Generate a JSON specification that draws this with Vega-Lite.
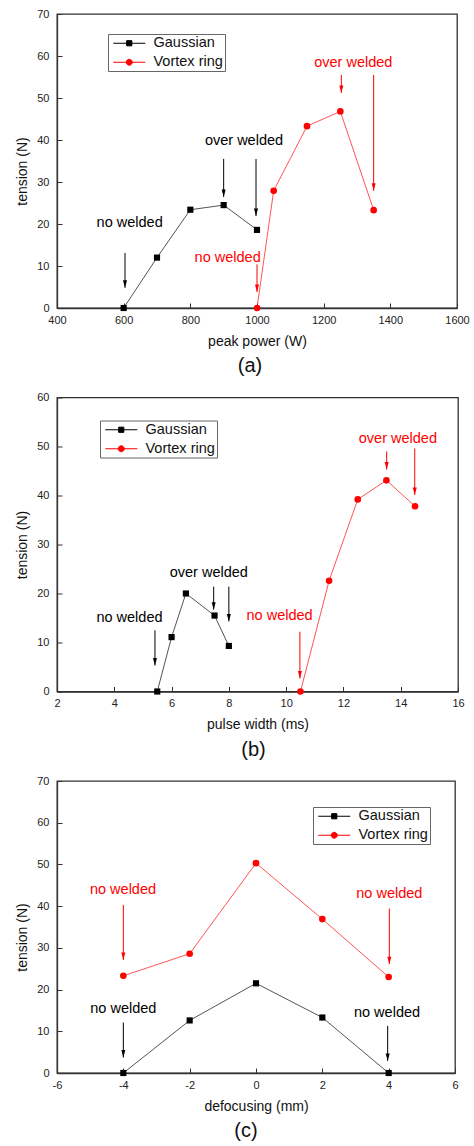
{
  "$schema": "https://vega.github.io/schema/vega-lite/v6.json",
  "background": "white",
  "padding": {"left": 15, "top": 7, "right": 5, "bottom": 0},
  "spacing": 13.5,
  "resolve": {"scale": {"color": "independent", "fill": "independent", "stroke": "independent", "shape": "independent"},
              "legend": {"color": "independent", "fill": "independent", "stroke": "independent", "shape": "independent"}},
  "datasets": {
    "aS": [
      {"s": "Gaussian", "x": 600, "y": 0}, {"s": "Gaussian", "x": 700, "y": 12}, {"s": "Gaussian", "x": 800, "y": 23.4}, {"s": "Gaussian", "x": 900, "y": 24.5}, {"s": "Gaussian", "x": 1000, "y": 18.6},
      {"s": "Vortex ring", "x": 1000, "y": 0}, {"s": "Vortex ring", "x": 1050, "y": 27.9}, {"s": "Vortex ring", "x": 1150, "y": 43.3}, {"s": "Vortex ring", "x": 1250, "y": 46.8}, {"s": "Vortex ring", "x": 1350, "y": 23.3}
    ],
    "aA": [
      {"s": "Gaussian", "x": 604, "y1": 13.1, "y2": 4.8}, {"s": "Gaussian", "x": 900, "y1": 35.5, "y2": 26.4}, {"s": "Gaussian", "x": 997, "y1": 35.5, "y2": 21.9},
      {"s": "Vortex ring", "x": 1000, "y1": 10.4, "y2": 3.8}, {"s": "Vortex ring", "x": 1253, "y1": 55.5, "y2": 51.2}, {"s": "Vortex ring", "x": 1350, "y1": 55.5, "y2": 27.9}
    ],
    "aT": [
      {"s": "Gaussian", "x": 618, "y": 20.2, "t": "no welded"}, {"s": "Gaussian", "x": 961, "y": 39.8, "t": "over welded"},
      {"s": "Vortex ring", "x": 912, "y": 12, "t": "no welded"}, {"s": "Vortex ring", "x": 1289, "y": 58.4, "t": "over welded"}
    ],
    "bS": [
      {"s": "Gaussian", "x": 5.5, "y": 0}, {"s": "Gaussian", "x": 6, "y": 11.1}, {"s": "Gaussian", "x": 6.5, "y": 20}, {"s": "Gaussian", "x": 7.5, "y": 15.5}, {"s": "Gaussian", "x": 8, "y": 9.3},
      {"s": "Vortex ring", "x": 10.5, "y": 0}, {"s": "Vortex ring", "x": 11.5, "y": 22.6}, {"s": "Vortex ring", "x": 12.5, "y": 39.2}, {"s": "Vortex ring", "x": 13.5, "y": 43.1}, {"s": "Vortex ring", "x": 14.5, "y": 37.8}
    ],
    "bA": [
      {"s": "Gaussian", "x": 5.42, "y1": 12.5, "y2": 5.3}, {"s": "Gaussian", "x": 7.47, "y1": 21.4, "y2": 16.7}, {"s": "Gaussian", "x": 8.0, "y1": 21.4, "y2": 14.3},
      {"s": "Vortex ring", "x": 10.48, "y1": 12.2, "y2": 2.65}, {"s": "Vortex ring", "x": 13.51, "y1": 49.0, "y2": 45.3}, {"s": "Vortex ring", "x": 14.49, "y1": 49.6, "y2": 40.1}
    ],
    "bT": [
      {"s": "Gaussian", "x": 4.53, "y": 15.1, "t": "no welded"}, {"s": "Gaussian", "x": 7.3, "y": 24.2, "t": "over welded"},
      {"s": "Vortex ring", "x": 9.77, "y": 15.4, "t": "no welded"}, {"s": "Vortex ring", "x": 13.9, "y": 51.6, "t": "over welded"}
    ],
    "cS": [
      {"s": "Gaussian", "x": -4, "y": 0}, {"s": "Gaussian", "x": -2, "y": 12.6}, {"s": "Gaussian", "x": 0, "y": 21.5}, {"s": "Gaussian", "x": 2, "y": 13.3}, {"s": "Gaussian", "x": 4, "y": 0},
      {"s": "Vortex ring", "x": -4, "y": 23.3}, {"s": "Vortex ring", "x": -2, "y": 28.6}, {"s": "Vortex ring", "x": 0, "y": 50.3}, {"s": "Vortex ring", "x": 2, "y": 36.9}, {"s": "Vortex ring", "x": 4, "y": 23.0}
    ],
    "cA": [
      {"s": "Vortex ring", "x": -4, "y1": 40.3, "y2": 27.1}, {"s": "Vortex ring", "x": 4.02, "y1": 39.4, "y2": 26.1},
      {"s": "Gaussian", "x": -4, "y1": 12.1, "y2": 3.7}, {"s": "Gaussian", "x": 3.97, "y1": 11.3, "y2": 2.9}
    ],
    "cT": [
      {"s": "Vortex ring", "x": -4.01, "y": 43.8, "t": "no welded"}, {"s": "Vortex ring", "x": 4.02, "y": 42.8, "t": "no welded"},
      {"s": "Gaussian", "x": -4, "y": 15.3, "t": "no welded"}, {"s": "Gaussian", "x": 3.95, "y": 14.4, "t": "no welded"}
    ]
  },
  "vconcat": [
    {
      "width": 400, "height": 294,
      "title": {"text": "(a)", "orient": "bottom", "offset": 8, "dx": -7},
      "layer": [
        {"data": {"name": "aS"}, "mark": {"type": "line", "strokeWidth": 0.8, "opacity": 0.85},
         "encoding": {
           "x": {"field": "x", "type": "quantitative", "scale": {"domain": [400, 1600], "nice": false, "zero": false},
                 "axis": {"title": "peak power (W)", "values": [400,500,600,700,800,900,1000,1100,1200,1300,1400,1500,1600],
                          "labelExpr": "datum.value % 200 === 0 ? '' + datum.value : ''",
                          "tickSize": {"condition": {"test": "datum.value % 200 === 0", "value": -5}, "value": -3},
                          "labelPadding": 11, "titlePadding": 9}},
           "y": {"field": "y", "type": "quantitative", "scale": {"domain": [0, 70], "nice": false},
                 "axis": {"title": "tension (N)", "values": [0,5,10,15,20,25,30,35,40,45,50,55,60,65,70],
                          "labelExpr": "datum.value % 10 === 0 ? '' + datum.value : ''",
                          "tickSize": {"condition": {"test": "datum.value % 10 === 0", "value": -5}, "value": -3},
                          "labelPadding": 13, "titlePadding": 7, "titleY": 157}},
           "color": {"field": "s", "type": "nominal", "scale": {"range": ["#000000", "#ff0000"]}, "legend": null}
         }},
        {"data": {"name": "aS"}, "transform": [{"filter": "datum.s === 'Gaussian'"}], "mark": {"type": "point", "filled": true, "size": 38, "opacity": 1, "shape": "square"},
         "encoding": {"x": {"field": "x", "type": "quantitative"}, "y": {"field": "y", "type": "quantitative"}, "color": {"field": "s", "type": "nominal", "legend": null}}},
        {"data": {"name": "aS"}, "transform": [{"filter": "datum.s === 'Vortex ring'"}], "mark": {"type": "point", "filled": true, "size": 44, "opacity": 1, "shape": "circle"},
         "encoding": {"x": {"field": "x", "type": "quantitative"}, "y": {"field": "y", "type": "quantitative"}, "color": {"field": "s", "type": "nominal", "legend": null}}},
        {"data": {"name": "aA"}, "mark": {"type": "rule", "strokeWidth": 1},
         "encoding": {"x": {"field": "x", "type": "quantitative"}, "y": {"field": "y1", "type": "quantitative"}, "y2": {"field": "y2"},
                      "color": {"field": "s", "type": "nominal", "legend": null}}},
        {"data": {"name": "aA"}, "mark": {"type": "point", "filled": true, "opacity": 1, "size": 25, "shape": "M-0.8,-3L0.8,-3L0,0Z"},
         "encoding": {"x": {"field": "x", "type": "quantitative"}, "y": {"field": "y2", "type": "quantitative"},
                      "color": {"field": "s", "type": "nominal", "legend": null}}},
        {"data": {"name": "aT"}, "mark": {"type": "text", "fontSize": 14.5, "baseline": "middle", "align": "center"},
         "encoding": {"x": {"field": "x", "type": "quantitative"}, "y": {"field": "y", "type": "quantitative"}, "text": {"field": "t"},
                      "color": {"field": "s", "type": "nominal", "legend": null}}},
        {"data": {"name": "aS"}, "transform": [{"filter": "false"}], "mark": {"type": "point", "filled": true, "size": 64, "opacity": 1},
         "encoding": {"x": {"field": "x", "type": "quantitative"}, "y": {"field": "y", "type": "quantitative"},
                      "shape": {"field": "s", "type": "nominal", "scale": {"domain": ["Gaussian", "Vortex ring"], "range": ["M-1,0H7M2.35,-0.65H3.65V0.65H2.35Z", "M-1,0H7M3.75,0A0.75,0.75 0 1,1 2.25,0A0.75,0.75 0 1,1 3.75,0Z"]},
                                "legend": {"orient": "none", "legendX": 51, "legendY": 20, "title": null}},
                      "fill": {"field": "s", "type": "nominal", "scale": {"domain": ["Gaussian", "Vortex ring"], "range": ["#000000", "#ff0000"]}},
                      "stroke": {"field": "s", "type": "nominal", "scale": {"domain": ["Gaussian", "Vortex ring"], "range": ["#000000", "#ff0000"]}}}}
      ]
    },
    {
      "width": 401, "height": 294,
      "title": {"text": "(b)", "orient": "bottom", "offset": 8, "dx": -4},
      "layer": [
        {"data": {"name": "bS"}, "mark": {"type": "line", "strokeWidth": 0.8, "opacity": 0.85},
         "encoding": {
           "x": {"field": "x", "type": "quantitative", "scale": {"domain": [2, 16], "nice": false, "zero": false},
                 "axis": {"title": "pulse width (ms)", "values": [2,3,4,5,6,7,8,9,10,11,12,13,14,15,16],
                          "labelExpr": "datum.value % 2 === 0 ? '' + datum.value : ''",
                          "tickSize": {"condition": {"test": "datum.value % 2 === 0", "value": -5}, "value": -3},
                          "labelPadding": 11, "titlePadding": 9}},
           "y": {"field": "y", "type": "quantitative", "scale": {"domain": [0, 60], "nice": false},
                 "axis": {"title": "tension (N)", "values": [0,5,10,15,20,25,30,35,40,45,50,55,60],
                          "labelExpr": "datum.value % 10 === 0 ? '' + datum.value : ''",
                          "tickSize": {"condition": {"test": "datum.value % 10 === 0", "value": -5}, "value": -3},
                          "labelPadding": 13, "titlePadding": 7}},
           "color": {"field": "s", "type": "nominal", "scale": {"range": ["#000000", "#ff0000"]}, "legend": null}
         }},
        {"data": {"name": "bS"}, "transform": [{"filter": "datum.s === 'Gaussian'"}], "mark": {"type": "point", "filled": true, "size": 38, "opacity": 1, "shape": "square"},
         "encoding": {"x": {"field": "x", "type": "quantitative"}, "y": {"field": "y", "type": "quantitative"}, "color": {"field": "s", "type": "nominal", "legend": null}}},
        {"data": {"name": "bS"}, "transform": [{"filter": "datum.s === 'Vortex ring'"}], "mark": {"type": "point", "filled": true, "size": 44, "opacity": 1, "shape": "circle"},
         "encoding": {"x": {"field": "x", "type": "quantitative"}, "y": {"field": "y", "type": "quantitative"}, "color": {"field": "s", "type": "nominal", "legend": null}}},
        {"data": {"name": "bA"}, "mark": {"type": "rule", "strokeWidth": 1},
         "encoding": {"x": {"field": "x", "type": "quantitative"}, "y": {"field": "y1", "type": "quantitative"}, "y2": {"field": "y2"},
                      "color": {"field": "s", "type": "nominal", "legend": null}}},
        {"data": {"name": "bA"}, "mark": {"type": "point", "filled": true, "opacity": 1, "size": 25, "shape": "M-0.8,-3L0.8,-3L0,0Z"},
         "encoding": {"x": {"field": "x", "type": "quantitative"}, "y": {"field": "y2", "type": "quantitative"},
                      "color": {"field": "s", "type": "nominal", "legend": null}}},
        {"data": {"name": "bT"}, "mark": {"type": "text", "fontSize": 14.5, "baseline": "middle", "align": "center"},
         "encoding": {"x": {"field": "x", "type": "quantitative"}, "y": {"field": "y", "type": "quantitative"}, "text": {"field": "t"},
                      "color": {"field": "s", "type": "nominal", "legend": null}}},
        {"data": {"name": "bS"}, "transform": [{"filter": "false"}], "mark": {"type": "point", "filled": true, "size": 64, "opacity": 1},
         "encoding": {"x": {"field": "x", "type": "quantitative"}, "y": {"field": "y", "type": "quantitative"},
                      "shape": {"field": "s", "type": "nominal", "scale": {"domain": ["Gaussian", "Vortex ring"], "range": ["M-1,0H7M2.35,-0.65H3.65V0.65H2.35Z", "M-1,0H7M3.75,0A0.75,0.75 0 1,1 2.25,0A0.75,0.75 0 1,1 3.75,0Z"]},
                                "legend": {"orient": "none", "legendX": 43, "legendY": 23, "title": null}},
                      "fill": {"field": "s", "type": "nominal", "scale": {"domain": ["Gaussian", "Vortex ring"], "range": ["#000000", "#ff0000"]}},
                      "stroke": {"field": "s", "type": "nominal", "scale": {"domain": ["Gaussian", "Vortex ring"], "range": ["#000000", "#ff0000"]}}}}
      ]
    },
    {
      "width": 398, "height": 292,
      "title": {"text": "(c)", "orient": "bottom", "offset": 8, "dx": -10},
      "layer": [
        {"data": {"name": "cS"}, "mark": {"type": "line", "strokeWidth": 0.8, "opacity": 0.85},
         "encoding": {
           "x": {"field": "x", "type": "quantitative", "scale": {"domain": [-6, 6], "nice": false, "zero": false},
                 "axis": {"title": "defocusing (mm)", "values": [-6,-5,-4,-3,-2,-1,0,1,2,3,4,5,6],
                          "labelExpr": "abs(datum.value) % 2 === 0 ? '' + datum.value : ''",
                          "tickSize": {"condition": {"test": "abs(datum.value) % 2 === 0", "value": -5}, "value": -3},
                          "labelPadding": 11, "titlePadding": 9}},
           "y": {"field": "y", "type": "quantitative", "scale": {"domain": [0, 70], "nice": false},
                 "axis": {"title": "tension (N)", "values": [0,5,10,15,20,25,30,35,40,45,50,55,60,65,70],
                          "labelExpr": "datum.value % 10 === 0 ? '' + datum.value : ''",
                          "tickSize": {"condition": {"test": "datum.value % 10 === 0", "value": -5}, "value": -3},
                          "labelPadding": 13, "titlePadding": 7, "titleY": 156}},
           "color": {"field": "s", "type": "nominal", "scale": {"range": ["#000000", "#ff0000"]}, "legend": null}
         }},
        {"data": {"name": "cS"}, "transform": [{"filter": "datum.s === 'Gaussian'"}], "mark": {"type": "point", "filled": true, "size": 38, "opacity": 1, "shape": "square"},
         "encoding": {"x": {"field": "x", "type": "quantitative"}, "y": {"field": "y", "type": "quantitative"}, "color": {"field": "s", "type": "nominal", "legend": null}}},
        {"data": {"name": "cS"}, "transform": [{"filter": "datum.s === 'Vortex ring'"}], "mark": {"type": "point", "filled": true, "size": 44, "opacity": 1, "shape": "circle"},
         "encoding": {"x": {"field": "x", "type": "quantitative"}, "y": {"field": "y", "type": "quantitative"}, "color": {"field": "s", "type": "nominal", "legend": null}}},
        {"data": {"name": "cA"}, "mark": {"type": "rule", "strokeWidth": 1},
         "encoding": {"x": {"field": "x", "type": "quantitative"}, "y": {"field": "y1", "type": "quantitative"}, "y2": {"field": "y2"},
                      "color": {"field": "s", "type": "nominal", "legend": null}}},
        {"data": {"name": "cA"}, "mark": {"type": "point", "filled": true, "opacity": 1, "size": 25, "shape": "M-0.8,-3L0.8,-3L0,0Z"},
         "encoding": {"x": {"field": "x", "type": "quantitative"}, "y": {"field": "y2", "type": "quantitative"},
                      "color": {"field": "s", "type": "nominal", "legend": null}}},
        {"data": {"name": "cT"}, "mark": {"type": "text", "fontSize": 14.5, "baseline": "middle", "align": "center"},
         "encoding": {"x": {"field": "x", "type": "quantitative"}, "y": {"field": "y", "type": "quantitative"}, "text": {"field": "t"},
                      "color": {"field": "s", "type": "nominal", "legend": null}}},
        {"data": {"name": "cS"}, "transform": [{"filter": "false"}], "mark": {"type": "point", "filled": true, "size": 64, "opacity": 1},
         "encoding": {"x": {"field": "x", "type": "quantitative"}, "y": {"field": "y", "type": "quantitative"},
                      "shape": {"field": "s", "type": "nominal", "scale": {"domain": ["Gaussian", "Vortex ring"], "range": ["M-1,0H7M2.35,-0.65H3.65V0.65H2.35Z", "M-1,0H7M3.75,0A0.75,0.75 0 1,1 2.25,0A0.75,0.75 0 1,1 3.75,0Z"]},
                                "legend": {"orient": "none", "legendX": 256, "legendY": 26, "title": null}},
                      "fill": {"field": "s", "type": "nominal", "scale": {"domain": ["Gaussian", "Vortex ring"], "range": ["#000000", "#ff0000"]}},
                      "stroke": {"field": "s", "type": "nominal", "scale": {"domain": ["Gaussian", "Vortex ring"], "range": ["#000000", "#ff0000"]}}}}
      ]
    }
  ],
  "config": {
    "font": "Liberation Sans",
    "view": {"stroke": "#333333", "strokeWidth": 1.3},
    "axis": {"grid": false, "domainColor": "#333333", "domainWidth": 1.3, "tickColor": "#333333", "tickWidth": 1,
             "labelFont": "Liberation Sans", "labelFontSize": 11, "labelColor": "#222222", "labelFlush": false, "labelOverlap": false,
             "titleFont": "Liberation Sans", "titleFontSize": 14, "titleFontWeight": "normal", "titleColor": "#111111"},
    "legend": {"strokeColor": "#666666", "fillColor": "white", "padding": 2, "rowPadding": 4, "symbolSize": 64,
               "labelOffset": 29, "labelFont": "Liberation Sans", "labelFontSize": 14.5, "labelColor": "#111111", "symbolStrokeWidth": 1,
               "direction": "vertical"},
    "title": {"font": "Liberation Sans", "fontSize": 20, "fontWeight": "normal", "color": "#111111", "anchor": "middle"},
    "text": {"font": "Liberation Sans"}
  }
}
